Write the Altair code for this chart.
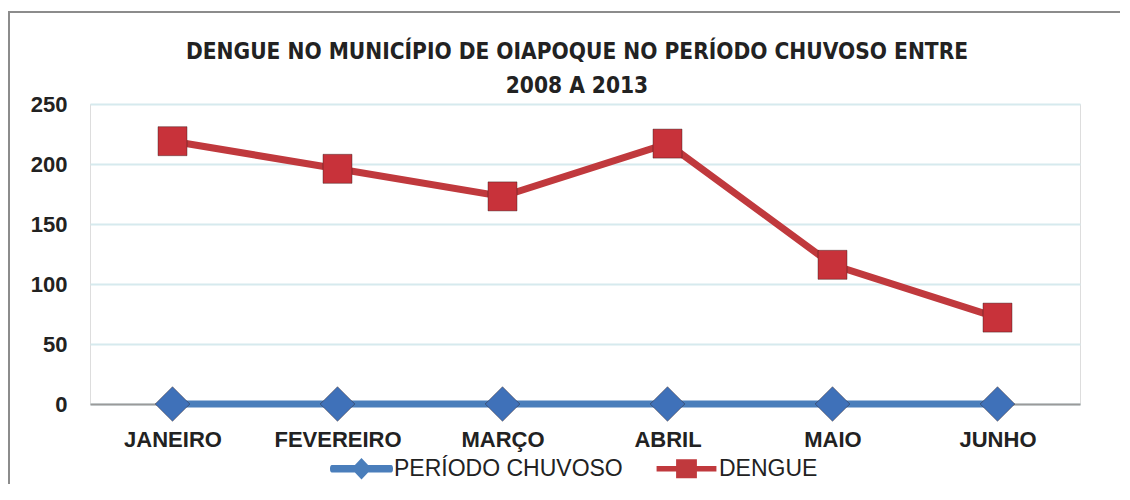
import altair as alt
import pandas as pd

meses = ["JANEIRO", "FEVEREIRO", "MARÇO", "ABRIL", "MAIO", "JUNHO"]
dengue = [219, 196, 173, 217, 116, 72]
chuvoso = [0, 0, 0, 0, 0, 0]
series_names = ["PERÍODO CHUVOSO", "DENGUE"]
series_colors = ["#4a7ebb", "#c0393d"]
marker_colors = ["#3f71b9", "#c8323a"]
marker_shapes = ["diamond", "square"]
marker_sizes = [1200, 841]
y_ticks = [0, 50, 100, 150, 200, 250]
title_lines = ["DENGUE  NO MUNICÍPIO  DE OIAPOQUE  NO PERÍODO  CHUVOSO  ENTRE", "2008 A 2013"]

# legend symbols: a short line with the series marker in the middle
legend_paths = [
    "M-0.94,-0.12 L0.94,-0.12 Q1,-0.12 1,0 Q1,0.12 0.94,0.12 L-0.94,0.12 Q-1,0.12 -1,0 Q-1,-0.12 -0.94,-0.12 Z "
    "M-0.32,0 L0,-0.34 L0.32,0 L0,0.34 Z",
    "M-0.95,-0.09 L0.95,-0.09 L0.95,0.09 L-0.95,0.09 Z "
    "M-0.33,-0.3 L0.33,-0.3 L0.33,0.3 L-0.33,0.3 Z",
]

rows = []
for m, v in zip(meses, chuvoso):
    rows.append({"mes": m, "serie": series_names[0], "valor": v})
for m, v in zip(meses, dengue):
    rows.append({"mes": m, "serie": series_names[1], "valor": v})
df = pd.DataFrame(rows)

FONT = "Liberation Sans"
NARROW = "Liberation Sans Narrow, DejaVu Sans Condensed, Liberation Sans"

x = alt.X(
    "mes:N",
    sort=meses,
    scale=alt.Scale(type="point", padding=0.5),
    axis=alt.Axis(
        title=None, labelAngle=0, ticks=False, domain=True, domainColor="#9a9a9a",
        domainWidth=2, grid=False, labelFont=FONT, labelFontSize=22,
        labelFontWeight="bold", labelColor="#222222", labelPadding=25,
    ),
)
y = alt.Y(
    "valor:Q",
    scale=alt.Scale(domain=[0, 250], nice=False, zero=True),
    axis=alt.Axis(
        title=None, values=y_ticks, ticks=False, domain=False, grid=True,
        gridColor="#d6eaee", gridWidth=2, labelFont=FONT, labelFontSize=22,
        labelFontWeight="bold", labelColor="#222222", labelPadding=23,
    ),
)

color_plain = alt.Color(
    "serie:N", scale=alt.Scale(domain=series_names, range=series_colors), legend=None
)

lines = alt.Chart(df).mark_line(strokeWidth=7, strokeCap="round").encode(
    x=x, y=y, color=color_plain
)

points = alt.Chart(df).mark_point(
    filled=True, opacity=1, stroke="rgba(40,20,20,0.4)", strokeWidth=1
).encode(
    x=x,
    y=y,
    color=alt.Color(
        "serie:N", scale=alt.Scale(domain=series_names, range=marker_colors), legend=None
    ),
    shape=alt.Shape("serie:N", scale=alt.Scale(domain=series_names, range=marker_shapes), legend=None),
    size=alt.Size("serie:N", scale=alt.Scale(domain=series_names, range=marker_sizes), legend=None),
)

legend_props = dict(
    title=None, orient="none", legendX=240, legendY=333, direction="horizontal",
    labelFont=FONT, labelFontSize=23, labelColor="#222222", labelFontWeight="normal",
    labelLimit=400, symbolSize=3969, symbolOpacity=1, symbolStrokeWidth=0,
    labelOffset=1, columnPadding=32,
)

legend_layer = alt.Chart(df).mark_point(filled=True, opacity=0).encode(
    x=x,
    y=y,
    color=alt.Color(
        "serie:N",
        scale=alt.Scale(domain=series_names, range=series_colors),
        legend=alt.Legend(**legend_props),
    ),
    shape=alt.Shape(
        "serie:N",
        scale=alt.Scale(domain=series_names, range=legend_paths),
        legend=alt.Legend(**legend_props),
    ),
)

border_df = pd.DataFrame({"k": [0]})
border = alt.Chart(border_df).mark_rect(
    fill="transparent", stroke="#8c8c8c", strokeWidth=2
).encode(
    x=alt.value(-81), x2=alt.value(1300), y=alt.value(-92), y2=alt.value(700)
)

chart = (
    alt.layer(border, lines, points, legend_layer)
    .resolve_scale(color="independent", shape="independent")
    .properties(
        width=990,
        height=300,
        autosize=alt.AutoSizeParams(type="none"),
        padding={"left": 82, "top": 96, "right": 40, "bottom": 80},
        title=alt.Title(
            title_lines, font=NARROW, fontSize=22.5, fontWeight="bold", color="#222222",
            anchor="middle", frame="group", dx=-8, dy=90, offset=4, lineHeight=34,
        ),
    )
    .configure_view(fill="#f0f6e9", stroke=None)
    .configure(background="white")
)

chart.save("out.html", embed_options={"renderer": "svg", "actions": False})
